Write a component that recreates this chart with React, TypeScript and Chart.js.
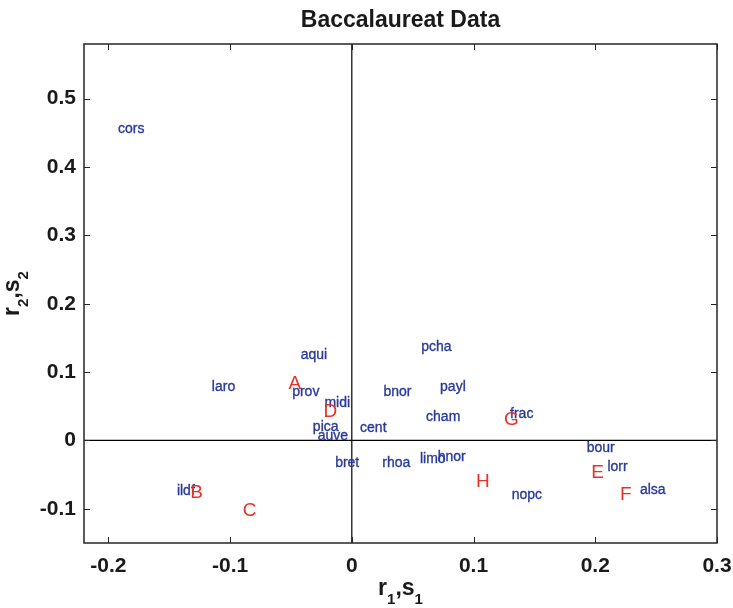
import React, { useEffect, useRef } from "react";
import { Chart, registerables } from "chart.js";

Chart.register(...registerables);

const titleText = "Baccalaureat Data";
const xTickValues = [-0.2, -0.1, 0, 0.1, 0.2, 0.3];
const xTickLabels = ["-0.2", "-0.1", "0", "0.1", "0.2", "0.3"];
const yTickValues = [-0.1, 0, 0.1, 0.2, 0.3, 0.4, 0.5];
const yTickLabels = ["-0.1", "0", "0.1", "0.2", "0.3", "0.4", "0.5"];

const regionNames = ["cors", "aqui", "laro", "prov", "midi", "pica", "auve", "bret", "ildf", "cent", "bnor", "pcha", "payl", "cham", "frac", "rhoa", "limo", "hnor", "bour", "lorr", "alsa", "nopc"];
const regionX = [-0.192, -0.042, -0.115, -0.049, -0.0225, -0.032, -0.028, -0.0137, -0.1437, 0.0068, 0.026, 0.057, 0.0725, 0.061, 0.130, 0.0251, 0.056, 0.0706, 0.193, 0.210, 0.2367, 0.1314];
const regionY = [0.456, 0.125, 0.078, 0.070, 0.0546, 0.0196, 0.0058, -0.033, -0.0745, 0.018, 0.070, 0.136, 0.0774, 0.034, 0.0385, -0.033, -0.0267, -0.0248, -0.011, -0.0389, -0.073, -0.080];

const letterNames = ["A", "B", "C", "D", "E", "F", "G", "H"];
const letterX = [-0.052, -0.1328, -0.0895, -0.0233, 0.1967, 0.2203, 0.125, 0.102];
const letterY = [0.0828, -0.0768, -0.1026, 0.0423, -0.0467, -0.0793, 0.031, -0.060];

const FONT = "'Liberation Sans', Arial, Helvetica, sans-serif";
const BLUE = "#2b3b9a";
const RED = "#e6332a";

function drawSubLabel(ctx: CanvasRenderingContext2D, parts: [string, boolean][], cx: number, cy: number) {
  const mainFont = `bold 23px ${FONT}`;
  const subFont = `bold 15px ${FONT}`;
  let total = 0;
  const widths = parts.map(([t, sub]) => {
    ctx.font = sub ? subFont : mainFont;
    const w = ctx.measureText(t).width;
    total += w;
    return w;
  });
  let x = cx - total / 2;
  ctx.textAlign = "left";
  ctx.textBaseline = "alphabetic";
  parts.forEach(([t, sub], i) => {
    ctx.font = sub ? subFont : mainFont;
    ctx.fillText(t, x, cy + (sub ? 9 : 0));
    x += widths[i];
  });
}

const decorPlugin = {
  id: "decor",
  afterDatasetsDraw(chart: any) {
    const { ctx, chartArea, scales } = chart;
    const xs = scales.x;
    const ys = scales.y;
    const { left, right, top, bottom } = chartArea;
    ctx.save();
    // zero lines
    ctx.strokeStyle = "#000";
    ctx.lineWidth = 1.2;
    const x0 = xs.getPixelForValue(0);
    const y0 = ys.getPixelForValue(0);
    ctx.beginPath();
    ctx.moveTo(x0, top);
    ctx.lineTo(x0, bottom);
    ctx.moveTo(left, y0);
    ctx.lineTo(right, y0);
    ctx.stroke();

    // labels
    ctx.textAlign = "left";
    ctx.textBaseline = "middle";
    ctx.font = `14px ${FONT}`;
    ctx.fillStyle = BLUE;
    ctx.strokeStyle = BLUE;
    ctx.lineWidth = 0.35;
    chart.data.datasets[0].data.forEach((p: any, i: number) => {
      const px = xs.getPixelForValue(p.x);
      const py = ys.getPixelForValue(p.y);
      ctx.fillText(regionNames[i], px, py);
      ctx.strokeText(regionNames[i], px, py);
    });
    ctx.font = `19px ${FONT}`;
    ctx.fillStyle = RED;
    chart.data.datasets[1].data.forEach((p: any, i: number) => {
      ctx.fillText(letterNames[i], xs.getPixelForValue(p.x), ys.getPixelForValue(p.y));
    });

    // frame
    ctx.strokeStyle = "#262626";
    ctx.lineWidth = 1.5;
    ctx.strokeRect(left, top, right - left, bottom - top);

    // ticks (inward, all sides)
    const tl = 6;
    ctx.lineWidth = 1;
    ctx.beginPath();
    xTickValues.forEach((v) => {
      const px = Math.round(xs.getPixelForValue(v)) + 0.5;
      ctx.moveTo(px, bottom);
      ctx.lineTo(px, bottom - tl);
      ctx.moveTo(px, top);
      ctx.lineTo(px, top + tl);
    });
    yTickValues.forEach((v) => {
      const py = Math.round(ys.getPixelForValue(v)) + 0.5;
      ctx.moveTo(left, py);
      ctx.lineTo(left + tl, py);
      ctx.moveTo(right, py);
      ctx.lineTo(right - tl, py);
    });
    ctx.stroke();

    // title
    ctx.fillStyle = "#1a1a1a";
    ctx.font = `bold 23px ${FONT}`;
    ctx.textAlign = "center";
    ctx.textBaseline = "alphabetic";
    ctx.fillText(titleText, (left + right) / 2, 27);

    // axis titles
    ctx.fillStyle = "#1a1a1a";
    drawSubLabel(ctx, [["r", false], ["1", true], [",s", false], ["1", true]], (left + right) / 2, 595);
    ctx.save();
    ctx.translate(19, (top + bottom) / 2);
    ctx.rotate(-Math.PI / 2);
    drawSubLabel(ctx, [["r", false], ["2", true], [",s", false], ["2", true]], 0, 0);
    ctx.restore();

    ctx.restore();
  },
};

function labelFor(values: number[], labels: string[], v: number) {
  const i = values.findIndex((t) => Math.abs(t - v) < 1e-9);
  return i >= 0 ? labels[i] : "";
}

export default function App() {
  const ref = useRef<HTMLCanvasElement>(null);
  useEffect(() => {
    if (!ref.current) return;
    const chart = new Chart(ref.current, {
      type: "scatter",
      data: {
        datasets: [
          {
            label: "regions",
            data: regionX.map((x, i) => ({ x, y: regionY[i] })),
            pointRadius: 0,
            pointHoverRadius: 0,
          },
          {
            label: "letters",
            data: letterX.map((x, i) => ({ x, y: letterY[i] })),
            pointRadius: 0,
            pointHoverRadius: 0,
          },
        ],
      },
      options: {
        animation: false,
        responsive: false,
        devicePixelRatio: 1,
        layout: { padding: { top: 44, right: 16, left: 0, bottom: 0 } },
        plugins: { legend: { display: false }, tooltip: { enabled: false }, title: { display: false } },
        scales: {
          x: {
            type: "linear",
            min: -0.22,
            max: 0.3,
            grid: { display: false, drawTicks: false },
            border: { display: false },
            afterBuildTicks: (s: any) => {
              s.ticks = xTickValues.map((v) => ({ value: v }));
            },
            afterFit: (s: any) => {
              s.height = 65;
              s.paddingLeft = 0;
              s.paddingRight = 0;
            },
            ticks: {
              autoSkip: false,
              maxRotation: 0,
              padding: 11,
              color: "#1a1a1a",
              font: { family: FONT, size: 21, weight: "bold" },
              callback: (v: any) => labelFor(xTickValues, xTickLabels, Number(v)),
            },
          },
          y: {
            type: "linear",
            min: -0.15,
            max: 0.58,
            grid: { display: false, drawTicks: false },
            border: { display: false },
            afterBuildTicks: (s: any) => {
              s.ticks = yTickValues.map((v) => ({ value: v }));
            },
            afterFit: (s: any) => {
              s.width = 84;
              s.paddingTop = 0;
              s.paddingBottom = 0;
            },
            ticks: {
              autoSkip: false,
              padding: 8,
              color: "#1a1a1a",
              font: { family: FONT, size: 21, weight: "bold" },
              callback: (v: any) => labelFor(yTickValues, yTickLabels, Number(v)),
            },
          },
        },
      },
      plugins: [decorPlugin],
    } as any);
    return () => chart.destroy();
  }, []);
  return (
    <div style={{ position: "absolute", left: 0, top: 0, width: 733, height: 608, background: "#fff" }}>
      <canvas ref={ref} width={733} height={608} style={{ width: 733, height: 608, display: "block" }} />
    </div>
  );
}
